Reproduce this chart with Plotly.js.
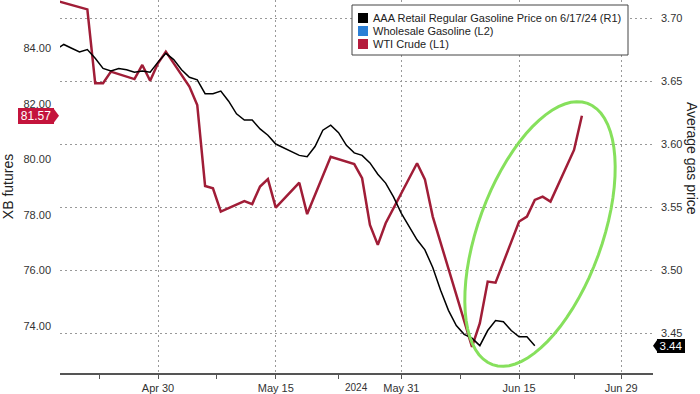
<!DOCTYPE html>
<html><head><meta charset="utf-8">
<script src="https://cdn.plot.ly/plotly-3.0.1.min.js"></script>
<style>html,body{margin:0;padding:0;background:#fff}#chart{width:700px;height:394px}</style>
</head><body><div id="chart"></div>
<script>
// ---- data ----
const gasStart = '2024-04-17';
const gasValues = [3.675,3.679,3.676,3.673,3.675,3.668,3.660,3.658,3.660,3.659,3.657,3.658,3.657,3.665,
  3.672,3.667,3.659,3.653,3.651,3.640,3.640,3.642,3.634,3.624,3.619,3.619,3.612,3.607,3.600,3.597,3.594,
  3.591,3.590,3.598,3.611,3.615,3.609,3.599,3.593,3.591,3.585,3.576,3.569,3.558,3.545,
  3.534,3.524,3.516,3.502,3.484,3.468,3.456,3.449,3.446,3.440,3.452,3.460,3.459,3.452,3.447,3.447,3.440];
const wtiDates = ['2024-04-17','2024-04-21','2024-04-22','2024-04-23','2024-04-24','2024-04-27','2024-04-28',
  '2024-04-29','2024-04-30','2024-05-01','2024-05-04','2024-05-05','2024-05-06','2024-05-07','2024-05-08',
  '2024-05-11','2024-05-12','2024-05-13','2024-05-14','2024-05-15','2024-05-18','2024-05-19','2024-05-22',
  '2024-05-25','2024-05-26','2024-05-27','2024-05-28','2024-05-29','2024-06-02','2024-06-03','2024-06-04',
  '2024-06-09','2024-06-10','2024-06-11','2024-06-12','2024-06-15','2024-06-16','2024-06-17','2024-06-18',
  '2024-06-19','2024-06-22','2024-06-23'];
const wtiValues = [85.72,85.40,82.74,82.74,83.16,82.89,83.40,82.83,83.46,83.88,82.62,81.96,79.04,78.96,78.12,
  78.50,78.39,79.02,79.29,78.26,79.16,78.03,80.09,79.83,79.32,77.64,76.92,77.70,79.86,79.28,77.94,
  73.25,74.10,75.60,75.56,77.76,77.94,78.54,78.66,78.48,80.34,81.57];
const legendNames = ['AAA Retail Regular Gasoline Price on 6/17/24 (R1)','Wholesale Gasoline (L2)','WTI Crude (L1)'];
const legendColors = ['#000000','#2b7fd6','#b51b3c'];
const xTickVals = ['2024-04-30','2024-05-15','2024-05-31','2024-06-15','2024-06-28'];
const xTickText = ['Apr 30','May 15','May 31','Jun 15','Jun 29'];
const xMinorVals = ['2024-04-22 12:00','2024-05-07 12:00','2024-05-23','2024-06-07 12:00','2024-06-22'];
const leftTicks = [74,76,78,80,82,84];
const rightTicks = [3.45,3.50,3.55,3.60,3.65,3.70];

// build daily dates for gas series
const gasDates = [];
{ const d0 = new Date(gasStart+'T00:00:00Z');
  for (let i=0;i<gasValues.length;i++){ const d=new Date(d0.getTime()+i*86400000); gasDates.push(d.toISOString().slice(0,10)); } }

// ---- geometry ----
const W=700,H=394,M={l:60,r:47,t:0,b:21};
const PW=W-M.l-M.r, PH=H-M.t-M.b;
const px2x = px => (px-M.l)/PW;
const py2y = py => (PH-(py-M.t))/PH;
const yRange=[72.307,85.739], y2Range=[3.4183,3.7143];
const yUnit = (yRange[1]-yRange[0])/PH, y2Unit=(y2Range[1]-y2Range[0])/PH;

// ellipse highlight
function ellipsePath(cx,cy,a,b,angDeg){
  const th=angDeg*Math.PI/180, u=[Math.sin(th),-Math.cos(th)], v=[Math.cos(th),Math.sin(th)];
  let p='';
  for(let i=0;i<=72;i++){const t=i/72*2*Math.PI;
    const X=cx+a*Math.cos(t)*u[0]+b*Math.sin(t)*v[0], Y=cy+a*Math.cos(t)*u[1]+b*Math.sin(t)*v[1];
    p+=(i?'L':'M')+px2x(X).toFixed(5)+','+py2y(Y).toFixed(5);}
  return p+'Z';
}

const lastW = wtiValues[wtiValues.length-1], lastG = gasValues[gasValues.length-1];

const shapes = [
  {type:'path', xref:'paper', yref:'paper', path:ellipsePath(540,234,139,62,20), line:{color:'#86e05c',width:3}, layer:'above'},
  // legend box
  {type:'rect', xref:'paper', yref:'paper', x0:px2x(352), x1:px2x(628), y0:py2y(5), y1:py2y(55), line:{color:'#444',width:1}, fillcolor:'#fff', layer:'above'},
  // last-value pointers
  {type:'path', xref:'paper', yref:'y', path:`M${px2x(53)},${lastW+8*yUnit}L${px2x(59)},${lastW}L${px2x(53)},${lastW-8*yUnit}Z`, fillcolor:'#c4143c', line:{width:0}},
  {type:'path', xref:'paper', yref:'y2', path:`M${px2x(658)},${lastG+7*y2Unit}L${px2x(653)},${lastG}L${px2x(658)},${lastG-7*y2Unit}Z`, fillcolor:'#000', line:{width:0}}
];
const annotations = [
  {xref:'paper', yref:'y', x:px2x(54), y:lastW, xanchor:'right', yanchor:'middle', text:lastW.toFixed(2), showarrow:false,
   font:{color:'#fff', size:12}, bgcolor:'#c4143c', bordercolor:'#c4143c', borderwidth:1, borderpad:1, width:32, height:12},
  {xref:'paper', yref:'y2', x:px2x(657), y:lastG, xanchor:'left', yanchor:'middle', text:lastG.toFixed(2), showarrow:false,
   font:{color:'#fff', size:11.5}, bgcolor:'#000', bordercolor:'#000', borderwidth:1, borderpad:1, width:24, height:10},
  {xref:'paper', yref:'paper', x:px2x(692), y:py2y(158), text:'Average gas price', textangle:90, showarrow:false,
   font:{size:14,color:'#222'}, xanchor:'center', yanchor:'middle'},
  {xref:'paper', yref:'paper', x:px2x(356), y:py2y(394), text:'2024', showarrow:false, yanchor:'bottom', borderpad:0, font:{size:10,color:'#333'}}
];
legendNames.forEach((n,i)=>{
  const cy = 18 + i*13;
  shapes.push({type:'rect', xref:'paper', yref:'paper', x0:px2x(358), x1:px2x(368), y0:py2y(cy-5), y1:py2y(cy+5), fillcolor:legendColors[i], line:{width:0}, layer:'above'});
  annotations.push({xref:'paper', yref:'paper', x:px2x(371), y:py2y(cy), text:n, showarrow:false, xanchor:'left', yanchor:'middle', font:{size:11,color:'#222'}});
});

const traces = [
  {type:'scatter', mode:'lines', name:legendNames[2], x:wtiDates, y:wtiValues, yaxis:'y', line:{color:'#a01d37', width:2.5}, hoverinfo:'skip'},
  {type:'scatter', mode:'lines', name:legendNames[0], x:gasDates, y:gasValues, yaxis:'y2', line:{color:'#000', width:1.5}, hoverinfo:'skip'}
];

const grid = {gridcolor:'#999999', gridwidth:1, griddash:'1.5px,3.5px'};
const layout = {
  width:W, height:H, margin:{l:M.l,r:M.r,t:M.t,b:M.b,pad:0},
  paper_bgcolor:'#fff', plot_bgcolor:'#fff', showlegend:false,
  font:{family:'Liberation Sans, Arial, sans-serif', size:11, color:'#333'},
  xaxis:Object.assign({type:'date', range:['2024-04-17 12:23','2024-07-02 01:22'], tickmode:'array', tickvals:xTickVals, ticktext:xTickText,
    ticks:'outside', ticklen:4, tickcolor:'#555', tickwidth:1, showline:true, linecolor:'#555', linewidth:2, showgrid:true, zeroline:false,
    tickfont:{size:11,color:'#333'},
    minor:{tickmode:'array', tickvals:xMinorVals, ticks:'outside', ticklen:4, tickcolor:'#555', showgrid:false}}, grid),
  yaxis:{range:yRange, tickmode:'array', tickvals:leftTicks, tickformat:'.2f', showgrid:false, zeroline:false, showline:false, ticks:'',
    ticklabelstandoff:8, tickfont:{size:11,color:'#333'}, title:{text:'XB futures', font:{size:14,color:'#222'}, standoff:10}},
  yaxis2:Object.assign({overlaying:'y', side:'right', range:y2Range, tickmode:'array', tickvals:rightTicks, tickformat:'.2f', showgrid:true,
    zeroline:false, showline:false, ticks:'', ticklabelstandoff:7, tickfont:{size:11,color:'#333'}}, grid),
  shapes:shapes, annotations:annotations
};
Plotly.newPlot('chart', traces, layout, {staticPlot:true, displayModeBar:false});
</script></body></html>
